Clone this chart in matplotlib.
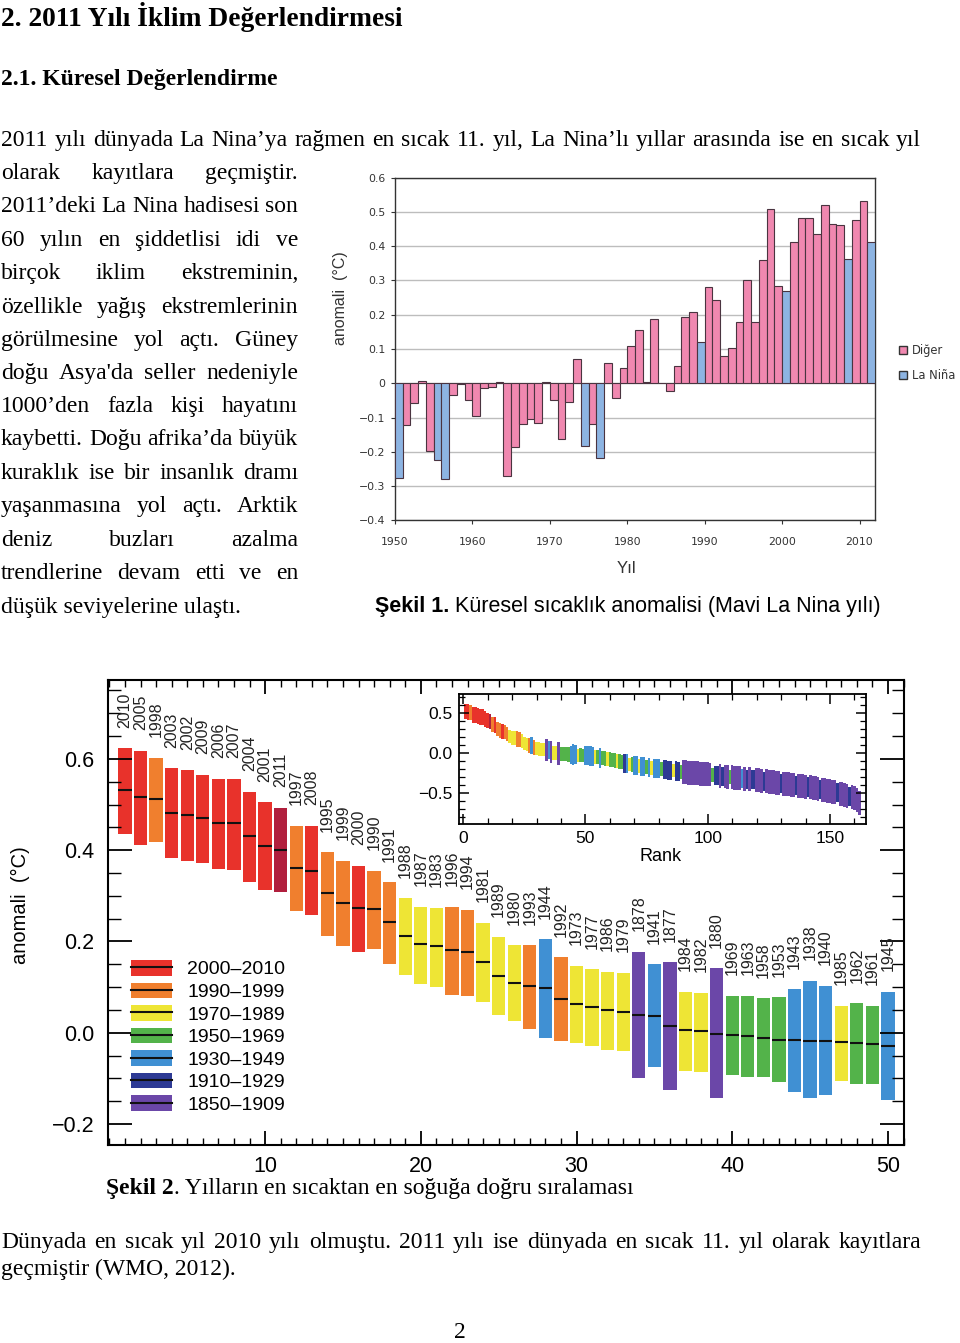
import matplotlib
matplotlib.use('Agg')
import matplotlib.pyplot as plt
from matplotlib.patches import Patch
from matplotlib.lines import Line2D
from matplotlib.ticker import MultipleLocator

W, H = 960, 1343

# ---- Şekil 1: annual anomaly 1950-2011 ----
years1 = list(range(1950, 2012))
anom1 = [-0.276, -0.123, -0.059, 0.006, -0.198, -0.225, -0.279, -0.035, -0.002, -0.050,
         -0.097, -0.014, -0.011, 0.004, -0.271, -0.186, -0.120, -0.105, -0.115, 0.004,
         -0.050, -0.164, -0.056, 0.072, -0.183, -0.120, -0.217, 0.058, -0.044, 0.046,
         0.109, 0.156, 0.003, 0.189, 0.002, -0.022, 0.051, 0.192, 0.207, 0.119,
         0.280, 0.244, 0.079, 0.104, 0.180, 0.300, 0.180, 0.359, 0.510, 0.283,
         0.269, 0.412, 0.482, 0.482, 0.437, 0.521, 0.464, 0.461, 0.362, 0.476,
         0.531, 0.412]
la_nina_years = [1950, 1955, 1956, 1974, 1976, 1989, 2000, 2008, 2011]

# ---- Şekil 2: ranked years (top 50 labelled) ----
rank_years = [2010, 2005, 1998, 2003, 2002, 2009, 2006, 2007, 2004, 2001,
              2011, 1997, 2008, 1995, 1999, 2000, 1990, 1991, 1988, 1987,
              1983, 1996, 1994, 1981, 1989, 1980, 1993, 1944, 1992, 1973,
              1977, 1986, 1979, 1878, 1941, 1877, 1984, 1982, 1880, 1969,
              1963, 1958, 1953, 1943, 1938, 1940, 1985, 1962, 1961, 1945]
rank_median = [0.531, 0.516, 0.513, 0.482, 0.477, 0.470, 0.459, 0.459, 0.431, 0.410,
               0.400, 0.362, 0.354, 0.306, 0.284, 0.273, 0.271, 0.243, 0.212, 0.194,
               0.189, 0.182, 0.177, 0.156, 0.125, 0.110, 0.102, 0.098, 0.074, 0.064,
               0.057, 0.049, 0.046, 0.039, 0.036, 0.015, 0.005, 0.003, -0.002, -0.005,
               -0.007, -0.011, -0.015, -0.015, -0.018, -0.018, -0.021, -0.023, -0.025, -0.028]
rank_upper = [0.623, 0.618, 0.603, 0.580, 0.575, 0.565, 0.556, 0.556, 0.528, 0.505,
              0.493, 0.453, 0.453, 0.396, 0.377, 0.366, 0.355, 0.330, 0.295, 0.276,
              0.274, 0.276, 0.269, 0.241, 0.209, 0.192, 0.192, 0.205, 0.165, 0.147,
              0.139, 0.134, 0.132, 0.178, 0.150, 0.154, 0.090, 0.088, 0.141, 0.081,
              0.081, 0.076, 0.078, 0.095, 0.114, 0.103, 0.059, 0.065, 0.059, 0.090]
rank_lower = [0.435, 0.412, 0.418, 0.382, 0.377, 0.372, 0.359, 0.356, 0.331, 0.312,
              0.308, 0.267, 0.258, 0.211, 0.189, 0.177, 0.183, 0.150, 0.127, 0.107,
              0.101, 0.083, 0.081, 0.068, 0.038, 0.025, 0.009, -0.011, -0.018, -0.022,
              -0.030, -0.037, -0.039, -0.100, -0.075, -0.126, -0.083, -0.086, -0.144, -0.092,
              -0.097, -0.097, -0.108, -0.129, -0.143, -0.136, -0.106, -0.112, -0.112, -0.147]

# inset: ranks 51-162 (period code per rank, median, typical half range per period)
tail_codes = ('BBBYGBGGYG' 'GGYGGDBYGB' 'BYBBGBYBBB' 'GDDDDYDDGP' 'PPPPPPPPPP'
              'PGDDPDPPGP' 'PPPBPDPDDP' 'PPDPPPPPPD' 'PPPPPDPPPP' 'DPPPPDPPPP'
              'PPDPPPPDPP' 'PP')
tail_median = [-0.030, -0.033, -0.040, -0.046, -0.050, -0.058, -0.062, -0.066, -0.070, -0.078,
               -0.085, -0.090, -0.096, -0.104, -0.112, -0.125, -0.130, -0.138, -0.142, -0.150,
               -0.155, -0.160, -0.166, -0.170, -0.174, -0.178, -0.182, -0.186, -0.190, -0.194,
               -0.198, -0.204, -0.208, -0.212, -0.215, -0.218, -0.222, -0.226, -0.232, -0.238,
               -0.240, -0.242, -0.245, -0.247, -0.250, -0.252, -0.255, -0.257, -0.260, -0.263,
               -0.266, -0.270, -0.276, -0.280, -0.284, -0.288, -0.291, -0.294, -0.298, -0.302,
               -0.305, -0.308, -0.312, -0.316, -0.320, -0.323, -0.326, -0.330, -0.333, -0.336,
               -0.340, -0.344, -0.348, -0.352, -0.356, -0.360, -0.364, -0.368, -0.372, -0.376,
               -0.380, -0.384, -0.388, -0.392, -0.396, -0.400, -0.404, -0.408, -0.412, -0.417,
               -0.422, -0.428, -0.433, -0.438, -0.444, -0.450, -0.456, -0.462, -0.468, -0.474,
               -0.480, -0.488, -0.496, -0.505, -0.514, -0.522, -0.530, -0.540, -0.552, -0.565,
               -0.585, -0.620]
half_range = {'Y': 0.085, 'G': 0.09, 'B': 0.12, 'D': 0.12, 'P': 0.15}

periods = ['2000–2010', '1990–1999', '1970–1989', '1950–1969', '1930–1949', '1910–1929', '1850–1909']
period_colors = ['#E8322B', '#F07F2E', '#EEE535', '#53B34A', '#4090D3', '#2D3A94', '#6B47A8']
code_color = dict(zip('ROYGBDP', period_colors))
color_2011 = '#B11F3D'


def year_color(y):
    if y == 2011:
        return color_2011
    for start, c in zip([2000, 1990, 1970, 1950, 1930, 1910, 1850], period_colors):
        if y >= start:
            return c


def fy(y):
    return 1 - y / H


def justify(fig, line, x0, x1, y, **kw):
    words = line.split()
    texts = [fig.text(0, fy(y), w, va='baseline', ha='left', **kw) for w in words]
    r = fig.canvas.get_renderer()
    widths = [t.get_window_extent(r).width for t in texts]
    gap = (x1 - x0 - sum(widths)) / max(len(words) - 1, 1)
    x = x0
    for t, w in zip(texts, widths):
        t.set_x(x / W)
        x += w + gap


def mixed(fig, parts, x, y):
    r = fig.canvas.get_renderer()
    for s, kw in parts:
        t = fig.text(x / W, fy(y), s, va='baseline', ha='left', **kw)
        x += t.get_window_extent(r).width


fig = plt.figure(figsize=(9.6, 13.43), dpi=100)
serif = dict(family='Liberation Serif', fontsize=17, color='black')

fig.text(0.001, fy(26), '2. 2011 Yılı İklim Değerlendirmesi', family='Liberation Serif',
         fontsize=19.8, fontweight='bold', va='baseline')
fig.text(0.001, fy(85), '2.1. Küresel Değerlendirme', family='Liberation Serif',
         fontsize=17, fontweight='bold', va='baseline')

justify(fig, '2011 yılı dünyada La Nina’ya rağmen en sıcak 11. yıl, La Nina’lı yıllar arasında ise en sıcak yıl',
        1, 921, 146, **serif)
col_lines = ['olarak kayıtlara geçmiştir.',
             '2011’deki La Nina hadisesi son',
             '60 yılın en şiddetlisi idi ve',
             'birçok iklim ekstreminin,',
             'özellikle yağış ekstremlerinin',
             'görülmesine yol açtı. Güney',
             "doğu Asya'da seller nedeniyle",
             '1000’den fazla kişi hayatını',
             'kaybetti. Doğu afrika’da büyük',
             'kuraklık ise bir insanlık dramı',
             'yaşanmasına yol açtı. Arktik',
             'deniz buzları azalma',
             'trendlerine devam etti ve en']
col_y = [179, 212, 246, 279, 313, 346, 379, 412, 445, 479, 512, 546, 579]
for line, y in zip(col_lines, col_y):
    justify(fig, line, 1, 298, y, **serif)
fig.text(0.001, fy(613), 'düşük seviyelerine ulaştı.', va='baseline', **serif)

mixed(fig, [('Şekil 1.', dict(family='Liberation Sans', fontsize=15.5, fontweight='bold')),
            (' Küresel sıcaklık anomalisi (Mavi La Nina yılı)', dict(family='Liberation Sans', fontsize=15.5))],
      375, 612)

# ---------------- Şekil 1 ----------------
ax1 = fig.add_axes([395 / W, fy(520.3), 480 / W, 342.6 / H])
bar_cols = ['#8DB4E2' if y in la_nina_years else '#F088B0' for y in years1]
ax1.bar([y + 0.5 for y in years1], anom1, width=1.0, color=bar_cols,
        edgecolor='#4A3440', linewidth=0.8, zorder=3)
ax1.set_xlim(1950, 2012)
ax1.set_ylim(-0.4, 0.6)
yt = [-0.4, -0.3, -0.2, -0.1, 0, 0.1, 0.2, 0.3, 0.4, 0.5, 0.6]
ax1.set_yticks(yt, ['0' if v == 0 else f'{v:.1f}'.replace('-', '−') for v in yt])
ax1.set_xticks(range(1950, 2011, 10))
ax1.grid(axis='y', color='#BDBDBD', linewidth=1.0, zorder=0)
ax1.tick_params(labelsize=7.8, colors='#333333', length=3, width=0.8)
ax1.tick_params(axis='x', pad=9)
ax1.tick_params(axis='y', pad=4)
for s in ax1.spines.values():
    s.set_color('#333333')
    s.set_linewidth(1.0)
ax1.set_ylabel('anomali  (°C)', family='Liberation Sans', fontsize=11.5, color='#333333')
ax1.yaxis.set_label_coords(-0.098, 0.649)
ax1.set_xlabel('Yıl', family='Liberation Sans', fontsize=12, color='#333333')
ax1.xaxis.set_label_coords(0.483, -0.12)
leg1 = [Line2D([], [], marker='s', ls='none', markersize=6, markerfacecolor='#F088B0',
               markeredgecolor='#333333', label='Diğer'),
        Line2D([], [], marker='s', ls='none', markersize=6, markerfacecolor='#8DB4E2',
               markeredgecolor='#333333', label='La Niña')]
fig.legend(handles=leg1, loc='upper left', bbox_to_anchor=(897 / W, fy(344)), frameon=False,
           fontsize=8.3, handlelength=1.0, handletextpad=0.3, labelspacing=1.05,
           borderpad=0, borderaxespad=0, labelcolor='#333333')

# ---------------- Şekil 2 ----------------
ax2 = fig.add_axes([108 / W, fy(1145), 796 / W, 465 / H])
ranks = list(range(1, len(rank_years) + 1))
heights = [u - l for u, l in zip(rank_upper, rank_lower)]
ax2.bar(ranks, heights, bottom=rank_lower, width=0.85,
        color=[year_color(y) for y in rank_years], linewidth=0)
ax2.hlines(rank_median, [r - 0.425 for r in ranks], [r + 0.425 for r in ranks],
           color='#111111', linewidth=1.5)
for r, y, u in zip(ranks, rank_years, rank_upper):
    ax2.text(r, u + 0.045, str(y), rotation=90, ha='center', va='bottom',
             family='Liberation Sans', fontsize=11.5, color='#222222')
ax2.set_xlim(-0.09, 51.03)
ax2.set_ylim(-0.246, 0.773)
ax2.set_xticks([10, 20, 30, 40, 50])
ax2.set_yticks([-0.2, 0.0, 0.2, 0.4, 0.6], ['−0.2', '0.0', '0.2', '0.4', '0.6'])
ax2.xaxis.set_minor_locator(MultipleLocator(1))
ax2.yaxis.set_minor_locator(MultipleLocator(0.05))
ax2.tick_params(axis='x', which='major', direction='in', length=10, width=1.3, top=True, pad=8)
ax2.tick_params(axis='x', which='minor', direction='in', length=5, width=1.0, top=True)
ax2.tick_params(axis='y', which='major', direction='in', length=17, width=1.3, right=True, pad=10)
ax2.tick_params(axis='y', which='minor', direction='in', length=9, width=1.0, right=True)
for lab in ax2.get_xticklabels() + ax2.get_yticklabels():
    lab.set_family('Liberation Sans')
    lab.set_fontsize(15.5)
for s in ax2.spines.values():
    s.set_linewidth(1.5)
ax2.set_ylabel('anomali  (°C)', family='Liberation Sans', fontsize=14.5)
ax2.yaxis.set_label_coords(-0.098, 0.516)
leg2 = [(Patch(facecolor=c, edgecolor='none'), Line2D([], [], color='#111111', linewidth=1.5))
        for c in period_colors]
ax2.legend(leg2, periods, loc='upper left', bbox_to_anchor=(131 / W, fy(960)),
           bbox_transform=fig.transFigure, frameon=False, prop=dict(family='Liberation Sans', size=14),
           handlelength=2.1, handleheight=0.85, handletextpad=0.8, labelspacing=0.21,
           borderpad=0, borderaxespad=0)

# inset with all ranks
ax3 = fig.add_axes([459.3 / W, fy(824.3), 406.4 / W, 130 / H])
all_lower = rank_lower + [m - half_range[c] for m, c in zip(tail_median, tail_codes)]
all_upper = rank_upper + [m + half_range[c] for m, c in zip(tail_median, tail_codes)]
all_cols = [year_color(y) for y in rank_years] + [code_color[c] for c in tail_codes]
all_ranks = list(range(1, len(all_lower) + 1))
ax3.bar(all_ranks, [u - l for u, l in zip(all_upper, all_lower)], bottom=all_lower,
        width=1.0, color=all_cols, linewidth=0)
ax3.set_xlim(-1.6, 164.6)
ax3.set_ylim(-0.89, 0.74)
ax3.set_xticks([0, 50, 100, 150])
ax3.set_yticks([-0.5, 0.0, 0.5], ['−0.5', '0.0', '0.5'])
ax3.xaxis.set_minor_locator(MultipleLocator(10))
ax3.yaxis.set_minor_locator(MultipleLocator(0.1))
ax3.tick_params(which='major', direction='in', length=7, width=1.1, top=True, right=True,
                labelsize=12.5, pad=5)
ax3.tick_params(which='minor', direction='in', length=4, width=0.9, top=True, right=True)
for lab in ax3.get_xticklabels() + ax3.get_yticklabels():
    lab.set_family('Liberation Sans')
for s in ax3.spines.values():
    s.set_linewidth(1.3)
ax3.set_xlabel('Rank', family='Liberation Sans', fontsize=13)
ax3.xaxis.set_label_coords(0.496, -0.18)

mixed(fig, [('Şekil 2', dict(family='Liberation Serif', fontsize=17, fontweight='bold')),
            ('. Yılların en sıcaktan en soğuğa doğru sıralaması', serif)], 106, 1194)

justify(fig, 'Dünyada en sıcak yıl 2010 yılı olmuştu. 2011 yılı ise dünyada en sıcak 11. yıl olarak kayıtlara',
        1, 921, 1248, **serif)
fig.text(0.001, fy(1275), 'geçmiştir (WMO, 2012).', va='baseline', **serif)
fig.text(460 / W, fy(1338), '2', ha='center', va='baseline', **serif)

fig.savefig('out.png', dpi=100)
